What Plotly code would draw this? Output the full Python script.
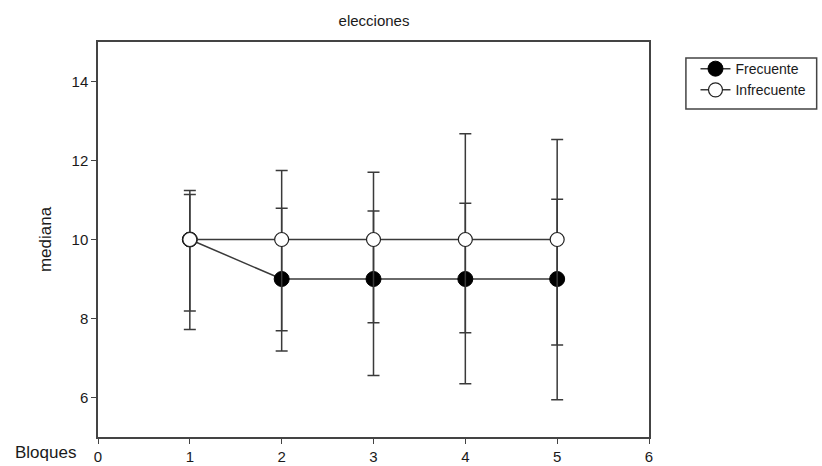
import plotly.graph_objects as go

bloques = [1, 2, 3, 4, 5]
frecuente = [10, 9, 9, 9, 9]
frecuente_sup = [11.14, 10.79, 10.72, 10.92, 11.02]
frecuente_inf = [7.72, 7.18, 6.56, 6.35, 5.94]
infrecuente = [10, 10, 10, 10, 10]
infrecuente_sup = [11.24, 11.75, 11.70, 12.68, 12.53]
infrecuente_inf = [8.19, 7.69, 7.89, 7.64, 7.33]

FONT = "Arial, Liberation Sans, sans-serif"
LC = "#3a3a3a"
TC = "#1a1a1a"


def err(center, sup, inf):
    return dict(type="data", symmetric=False,
                array=[s - c for s, c in zip(sup, center)],
                arrayminus=[c - i for c, i in zip(center, inf)],
                color=LC, thickness=1.5, width=6)


fig = go.Figure()
fig.add_trace(go.Scatter(
    x=bloques, y=frecuente, name="Frecuente", mode="lines+markers",
    line=dict(color=LC, width=1.5),
    marker=dict(size=15, color="black", line=dict(color="black", width=1)),
    error_y=err(frecuente, frecuente_sup, frecuente_inf)))
fig.add_trace(go.Scatter(
    x=bloques, y=infrecuente, name="Infrecuente", mode="lines+markers",
    line=dict(color=LC, width=1.5),
    marker=dict(size=14, color="white", line=dict(color="#222222", width=1.2)),
    error_y=err(infrecuente, infrecuente_sup, infrecuente_inf)))

axis_common = dict(showline=True, linecolor="#444444", linewidth=1.5, mirror=True,
                   ticks="outside", ticklen=5, tickwidth=1.2, tickcolor="#444444",
                   showgrid=False, zeroline=False, automargin=False,
                   tickfont=dict(family=FONT, size=15, color=TC))

fig.update_xaxes(range=[0, 6], tickvals=[0, 1, 2, 3, 4, 5, 6], **axis_common)
fig.update_yaxes(range=[5, 15], tickvals=[6, 8, 10, 12, 14],
                 title=dict(text="mediana", font=dict(family=FONT, size=17, color=TC), standoff=16),
                 **axis_common)

fig.add_shape(type="rect", xref="paper", yref="paper",
              x0=1.067, x1=1.3043, y0=0.8304, y1=0.9595,
              line=dict(color="#444444", width=1.5), fillcolor="rgba(0,0,0,0)")

fig.add_annotation(text="Bloques", xref="paper", yref="paper", x=-0.037, y=-0.04,
                   xanchor="right", yanchor="middle", showarrow=False,
                   font=dict(family=FONT, size=17, color=TC))

fig.update_layout(
    width=822, height=466,
    margin=dict(l=98, r=172, t=42, b=29),
    paper_bgcolor="white", plot_bgcolor="white",
    title=dict(text="elecciones", x=0.455, xanchor="center", y=0.955, yanchor="middle",
               font=dict(family=FONT, size=15, color=TC)),
    showlegend=True,
    legend=dict(x=1.0824, y=0.972, xanchor="left", yanchor="top",
                bgcolor="rgba(0,0,0,0)", borderwidth=0, itemwidth=30,
                font=dict(family=FONT, size=14, color=TC)),
)

fig.write_html("out.html")
